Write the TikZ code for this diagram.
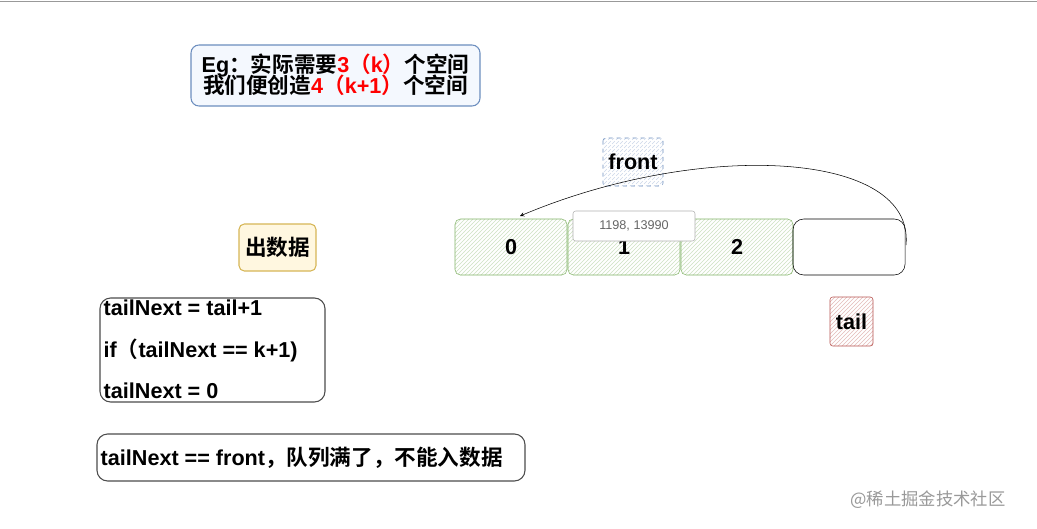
\documentclass[tikz,border=0pt]{standalone}
\usepackage{fontspec}
\setmainfont{Liberation Sans}
\newfontfamily\cjk{Noto Sans CJK SC}[BoldFont={* Bold}]
\usetikzlibrary{patterns}
\definecolor{gfill}{HTML}{D5E8D4}\definecolor{gline}{HTML}{82B366}
\definecolor{bline}{HTML}{6C8EBF}\definecolor{bfill}{HTML}{DAE8FC}
\definecolor{rline}{HTML}{B85450}\definecolor{rfill}{HTML}{F8CECC}
\definecolor{oline}{HTML}{D6B656}\definecolor{ofill}{HTML}{FFF2CC}
\tikzset{x=0.75pt,y=-0.75pt,
 cell/.style={draw=gline,rounded corners=4pt,pattern=north east lines,pattern color=gline!40},
 lab/.style={font=\bfseries\fontsize{16.2}{19}\selectfont},
 grayb/.style={draw=black!70,rounded corners=8pt,thick}}
\begin{document}
\begin{tikzpicture}
\useasboundingbox (0,0) rectangle (1037,528);
\fill[white] (0,0) rectangle (1037,528);
\draw[black!40] (0,1) -- (1037,1);
% blue box
\draw[bline,thick,rounded corners=6pt,fill=bfill!30] (191,45) rectangle (480,106);
\node[lab,align=center,anchor=center] (eg) at (335.5,75) {Eg{\cjk：实际需要}\textcolor{red}{3{\cjk（}k{\cjk）}}{\cjk 个空间}\\[-3pt]{\cjk 我们便创造}\textcolor{red}{4{\cjk（}k+1{\cjk）}}{\cjk 个空间}};
% front
\draw[bline,dashed,rounded corners=2pt,pattern=north east lines,pattern color=bline!35] (603,138) rectangle (663,186);
\node[lab] (front) at (633,162) {front};
% cells
\draw[cell] (455,219) rectangle (567,275); \node[lab] (c0) at (511,247) {0};
\draw[cell] (568,219) rectangle (680,275); \node[lab] (c1) at (624,247) {1};
\draw[cell] (681,219) rectangle (793,275); \node[lab] (c2) at (737,247) {2};
\draw[rounded corners=8pt] (793,219) rectangle (905,275);
\coordinate (r) at (906,245); \coordinate (l) at (520,216);
\draw[-stealth] (r) .. controls (915,150) and (700,140) .. (l);
% tooltip
\draw[black!30,fill=white,rounded corners=2pt] (573,211) rectangle (695,241);
\node[text=black!60,font=\fontsize{9.5}{11}\selectfont] (tip) at (634,226) {1198, 13990};
% out data
\draw[oline,thick,rounded corners=4pt,fill=ofill!60] (239,224) rectangle (316,271);
\node[lab] (out) at (277.5,247.5) {\cjk\bfseries 出数据};
% tail
\draw[rline,rounded corners=2pt,pattern=north east lines,pattern color=rline!40] (830,297) rectangle (873,346);
\node[lab] (tail) at (851.5,321.5) {tail};
% code box
\draw[grayb] (100,298) rectangle (325,402);
\node[lab,anchor=west] (l1) at (99,308) {tailNext = tail+1};
\node[lab,anchor=west] (l2) at (99,350) {if{\cjk （}tailNext == k+1)};
\node[lab,anchor=west] (l3) at (99,391) {tailNext = 0};
% bottom box
\draw[grayb] (97,434) rectangle (525,481);
\node[lab,anchor=west] (bt) at (96,457.5) {tailNext == front{\cjk\bfseries ，队列满了，不能入数据}};
\node[text=black!40,font=\cjk\fontsize{13}{15}\selectfont] (wm) at (928,500) {@稀土掘金技术社区};
\end{tikzpicture}
\end{document}
